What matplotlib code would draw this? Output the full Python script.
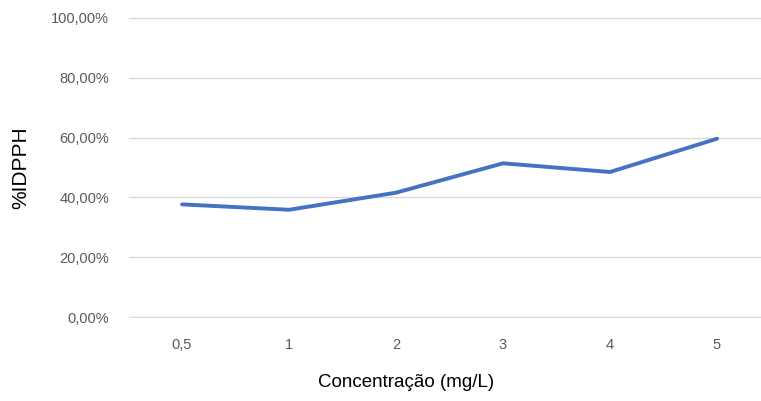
import matplotlib.pyplot as plt
from matplotlib.ticker import FuncFormatter

# Antioxidant activity (%IDPPH) by concentration
concentrations = ["0,5", "1", "2", "3", "4", "5"]
idpph = [0.377, 0.359, 0.416, 0.514, 0.485, 0.596]

plt.rcParams['font.family'] = ['Liberation Sans', 'DejaVu Sans']

fig = plt.figure(figsize=(7.61, 4.01), dpi=100)
ax = fig.add_axes([0.1689, 0.2062, 0.8436, 0.7522])

x = range(len(concentrations))
ax.plot(x, idpph, color='#4472C4', linewidth=2.8, solid_capstyle='round',
        solid_joinstyle='round', zorder=3)

ax.set_xlim(-0.5, len(concentrations) - 0.5)
ax.set_ylim(-0.003, 1.003)
ax.set_yticks([0, 0.2, 0.4, 0.6, 0.8, 1.0])
ax.yaxis.set_major_formatter(FuncFormatter(lambda v, p: f"{v*100:.2f}%".replace('.', ',')))
ax.set_xticks(list(x))
ax.set_xticklabels(concentrations)

ax.grid(axis='y', color='#D9D9D9', linewidth=1.0)
ax.set_axisbelow(True)
for s in ax.spines.values():
    s.set_visible(False)
ax.tick_params(axis='both', length=0, colors='#595959', labelsize=10.5)
ax.tick_params(axis='y', pad=14)
ax.tick_params(axis='x', pad=14)

fig.text(0.027, 0.583, "%IDPPH", rotation=90, ha='center', va='center',
         fontsize=15, color='#000000')
fig.text(0.533, 0.045, "Concentração (mg/L)", ha='center', va='center',
         fontsize=13.5, color='#000000')

fig.savefig("out.png", dpi=100)
